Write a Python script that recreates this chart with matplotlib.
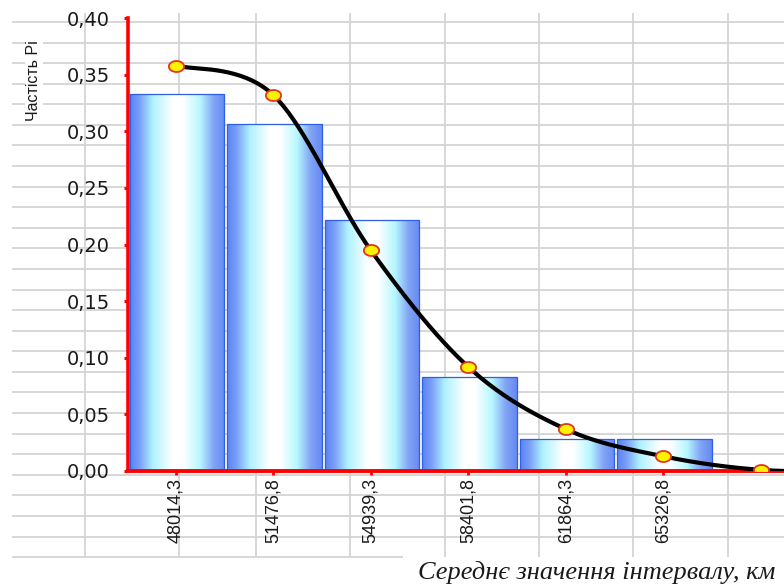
import numpy as np
import matplotlib
matplotlib.use("Agg")
import matplotlib.pyplot as plt
from matplotlib.colors import LinearSegmentedColormap
from matplotlib.path import Path

# interval midpoints (km) and observed / theoretical relative frequencies
interval_labels = ["48014,3", "51476,8", "54939,3", "58401,8", "61864,3", "65326,8"]
observed_freq = [0.333, 0.306, 0.222, 0.083, 0.028, 0.028]
theoretical_freq = [0.358, 0.332, 0.195, 0.092, 0.037, 0.013, 0.001, 0.000]
y_ticks = [0.00, 0.05, 0.10, 0.15, 0.20, 0.25, 0.30, 0.35, 0.40]
y_tick_labels = ["0,00", "0,05", "0,10", "0,15", "0,20", "0,25", "0,30", "0,35", "0,40"]

W, H = 784, 586
fig = plt.figure(figsize=(W / 100, H / 100), dpi=100)
fig.patch.set_facecolor("white")

# worksheet cell grid behind the chart (pixel coordinates)
bg = fig.add_axes([0, 0, 1, 1], zorder=0)
bg.set_xlim(0, W)
bg.set_ylim(H, 0)
bg.axis("off")
row_top, row_step, n_rows = 22.0, 20.58, 27
col_x = [85, 179, 256, 350, 445, 539, 633, 728]
grid_c = "#d4d4d4"
for k in range(n_rows):
    y = row_top + k * row_step
    x_end = 403 if k == n_rows - 1 else W
    bg.plot([12, x_end], [y, y], color=grid_c, lw=1.3, solid_capstyle="butt")
for x in col_x:
    bg.plot([x, x], [13, row_top + (n_rows - 1) * row_step], color=grid_c, lw=1.3,
            solid_capstyle="butt")

# chart plot area
left, right = 128 / W, 1.0
bottom, top = (H - 471) / H, (H - 18) / H
ax = fig.add_axes([left, bottom, right - left, top - bottom], zorder=2)
ax.patch.set_alpha(0)
ax.set_xlim(-0.49, 6.24)
ax.set_ylim(0, 0.40)

# histogram bars with a horizontal cylinder-like gradient
cmap = LinearSegmentedColormap.from_list("barfill", [
    (0.00, "#5a82f4"),
    (0.10, "#7a9ff7"),
    (0.24, "#aef2ff"),
    (0.45, "#ffffff"),
    (0.56, "#ffffff"),
    (0.74, "#b6f7ff"),
    (0.88, "#82a5f6"),
    (1.00, "#6689f2"),
])
grad = np.linspace(0, 1, 256).reshape(1, -1)
xs = np.arange(len(observed_freq)) + 0.015
bars = ax.bar(xs, observed_freq, width=0.97, facecolor="none",
              edgecolor="#2f5fe6", linewidth=0.9, zorder=3)
for rect in bars:
    x0, y0 = rect.get_x(), rect.get_y()
    w, h = rect.get_width(), rect.get_height()
    im = ax.imshow(grad, cmap=cmap, aspect="auto", interpolation="bicubic",
                   extent=(x0, x0 + w, y0, y0 + h), zorder=2)
    im.set_clip_path(rect)
ax.set_xlim(-0.49, 6.24)
ax.set_ylim(0, 0.40)

# smoothed theoretical curve (Catmull-Rom through the points, in display space)
tx = np.arange(len(theoretical_freq), dtype=float)
ty = np.array(theoretical_freq)
pts = ax.transData.transform(np.column_stack([tx, ty]))
ext = np.vstack([pts[0], pts, pts[-1]])
curve = []
for i in range(1, len(ext) - 2):
    p0, p1, p2, p3 = ext[i - 1], ext[i], ext[i + 1], ext[i + 2]
    t = np.linspace(0, 1, 40)[:, None]
    seg = 0.5 * ((2 * p1) + (-p0 + p2) * t + (2 * p0 - 5 * p1 + 4 * p2 - p3) * t ** 2
                 + (-p0 + 3 * p1 - 3 * p2 + p3) * t ** 3)
    curve.append(seg)
curve = ax.transData.inverted().transform(np.vstack(curve))
ax.plot(curve[:, 0], curve[:, 1], color="black", lw=3.0, zorder=5,
        solid_capstyle="round")

theta = np.linspace(0, 2 * np.pi, 60)
ellipse = Path(np.column_stack([np.cos(theta), 0.72 * np.sin(theta)]))
ax.plot(tx[:-1], ty[:-1], linestyle="none", marker=ellipse, markersize=11,
        markerfacecolor="#fff200", markeredgecolor="#e2351f", markeredgewidth=1.3,
        zorder=6)

# axes styling
for s in ["top", "right"]:
    ax.spines[s].set_visible(False)
ax.spines["left"].set_color("#ff0000")
ax.spines["left"].set_linewidth(2.6)
ax.spines["bottom"].set_color("#ff0000")
ax.spines["bottom"].set_linewidth(2.8)
ax.spines["left"].set_zorder(7)
ax.spines["bottom"].set_zorder(4)

ax.set_yticks(y_ticks)
ax.set_yticklabels(y_tick_labels, fontsize=14, family="DejaVu Sans", color="#1a1a1a")
ax.tick_params(axis="y", direction="out", length=3, width=2.2, color="#ff0000", pad=10)

ax.set_xticks(np.arange(len(interval_labels)))
ax.set_xticklabels(interval_labels, rotation=90, fontsize=13,
                   family="Liberation Sans", color="#1a1a1a")
ax.tick_params(axis="x", direction="out", length=3, width=2, color="#ff0000", pad=2)

fig.text(34 / W, 1 - 81 / H, "Частість Pi", rotation=90, ha="center", va="center",
         fontsize=11.5, family="Liberation Sans", color="#1a1a1a",
         bbox=dict(facecolor="white", edgecolor="none", pad=1))
fig.text(418 / W, 1 - 573 / H, "Середнє значення інтервалу, км", ha="left",
         va="center", fontsize=19, family="Liberation Serif", style="italic",
         color="#1a1a1a")

fig.savefig("out.png", dpi=100, facecolor="white")
